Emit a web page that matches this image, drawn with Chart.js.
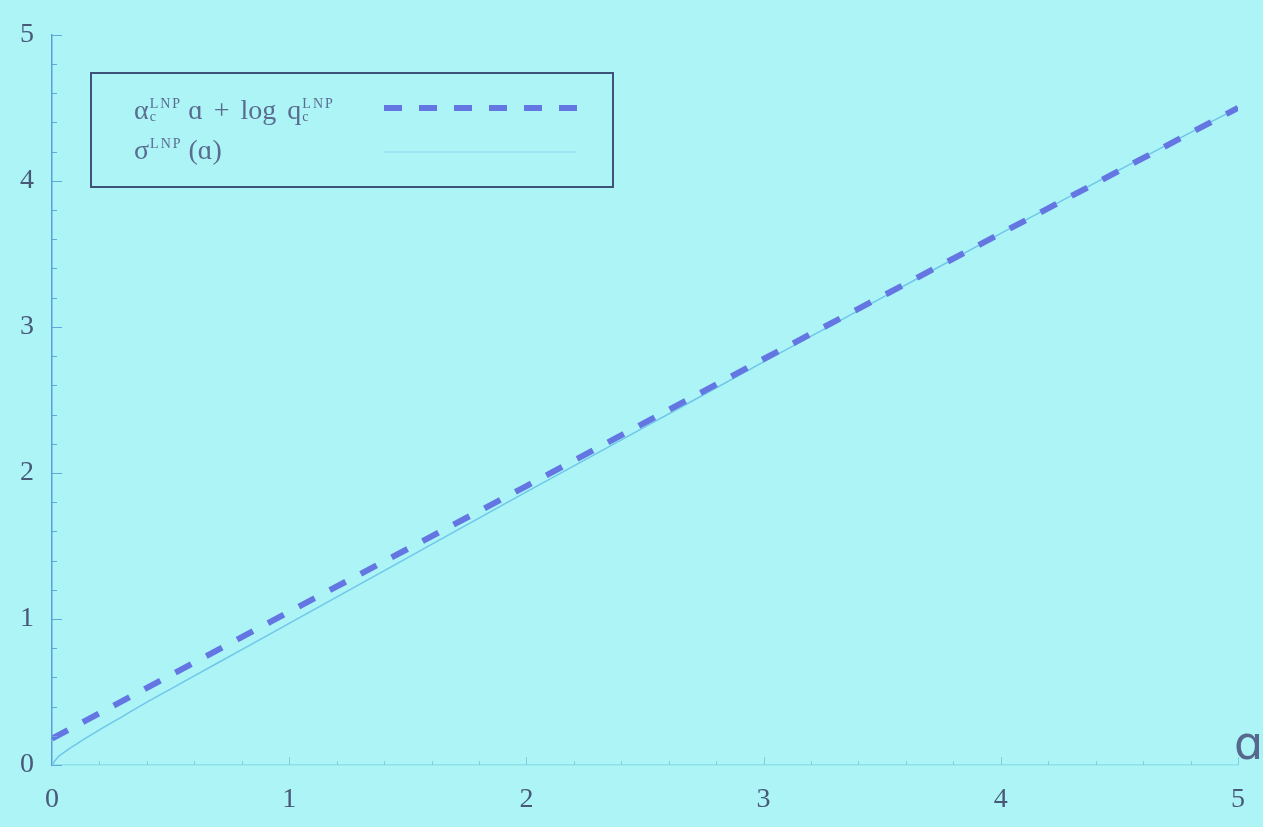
<!DOCTYPE html>
<html>
<head>
<meta charset="utf-8">
<script src="https://cdn.jsdelivr.net/npm/chart.js@4.4.1/dist/chart.umd.min.js"></script>
<style>
  html, body { margin: 0; padding: 0; background: #acf4f6; }
  #wrap { position: relative; width: 1263px; height: 827px; overflow: hidden; }
  #plot { position: absolute; left: 0; top: 0; }
  .legend {
    position: absolute; left: 90px; top: 72px; width: 520px; height: 112px;
    border: 2px solid #3f5278; box-sizing: content-box;
  }
  .row {
    position: absolute; left: 42px; font: 28px "Liberation Serif", "DejaVu Serif", serif;
    line-height: 28px; color: #5a6c90; white-space: nowrap; word-spacing: 4px;
  }
  .ss {
    display: inline-flex; flex-direction: column; font-size: 14px; line-height: 13px;
    letter-spacing: 2px; vertical-align: 11px; margin: 0 6px 0 1px;
  }
  .axis-name {
    position: absolute; left: 1234px; top: 716px;
    font: 46px "DejaVu Sans", sans-serif; color: #56688c;
  }
  svg.keys { position: absolute; left: 0; top: 0; }
</style>
</head>
<body>
<div id="wrap">
  <canvas id="plot" width="1263" height="827"></canvas>
  <div class="legend">
    <div class="row" style="top: 22px;">α<span class="ss"><span>LNP</span><span>c</span></span>ɑ + log q<span class="ss"><span>LNP</span><span>c</span></span></div>
    <div class="row" style="top: 62px;">σ<span class="ss"><span>LNP</span><span>&nbsp;</span></span>(ɑ)</div>
  </div>
  <svg class="keys" width="1263" height="827">
    <line x1="384" y1="108" x2="582" y2="108" stroke="#6476e2" stroke-width="6" stroke-dasharray="18 17"/>
    <line x1="384" y1="152" x2="576" y2="152" stroke="#8ad8ee" stroke-width="1.2"/>
  </svg>
  <div class="axis-name">ɑ</div>
</div>

<script>
// asymptote  alpha_c a + log q_c
const asymA = [0, 1, 2, 3, 4, 5];
const asymValues = [0.18, 1.05, 1.91, 2.78, 3.64, 4.50];

// sigma(a)
const sigmaA = [0, 0.02, 0.05, 0.1, 0.2, 0.3, 0.4, 0.5, 0.6, 0.8, 1, 1.5, 2, 2.5, 3, 3.5, 4, 4.5, 5];
const sigmaValues = [0, 0.045, 0.085, 0.14, 0.24, 0.335, 0.43, 0.52, 0.61, 0.79, 0.97, 1.42, 1.87, 2.315, 2.76, 3.20, 3.64, 4.075, 4.50];

const xTicks = [0, 1, 2, 3, 4, 5];
const yTicks = [0, 1, 2, 3, 4, 5];

const toPoints = (xs, ys) => xs.map((x, i) => ({ x: x, y: ys[i] }));

const labelFont = { family: '"Liberation Serif", "DejaVu Serif", serif', size: 28 };
const labelColor = '#4a5878';

// small inward ticks, major every 1 and minor every 0.2
const innerTicks = {
    id: 'innerTicks',
    afterDatasetsDraw(chart) {
        const ctx = chart.ctx;
        const xs = chart.scales.x;
        const ys = chart.scales.y;
        const area = chart.chartArea;
        ctx.save();
        ctx.lineWidth = 1;
        for (let i = 0; i <= 25; i++) {
            const px = Math.round(xs.getPixelForValue(i / 5)) + 0.5;
            const len = i % 5 === 0 ? 8 : 4;
            ctx.strokeStyle = '#7dd0e2';
            ctx.beginPath();
            ctx.moveTo(px, area.bottom);
            ctx.lineTo(px, area.bottom - len);
            ctx.stroke();
        }
        for (let i = 0; i <= 25; i++) {
            const py = Math.round(ys.getPixelForValue(i / 5)) + 0.5;
            const len = i % 5 === 0 ? 10 : 5;
            ctx.strokeStyle = '#62a8dc';
            ctx.beginPath();
            ctx.moveTo(area.left, py);
            ctx.lineTo(area.left + len, py);
            ctx.stroke();
        }
        ctx.restore();
    }
};

new Chart(document.getElementById('plot'), {
    type: 'line',
    data: {
        datasets: [
            {
                data: toPoints(asymA, asymValues),
                borderColor: '#6476e2',
                borderWidth: 6,
                borderDash: [18, 17],
                pointRadius: 0,
                tension: 0
            },
            {
                data: toPoints(sigmaA, sigmaValues),
                borderColor: '#70c6ea',
                borderWidth: 1.5,
                pointRadius: 0,
                cubicInterpolationMode: 'monotone'
            }
        ]
    },
    options: {
        responsive: false,
        animation: false,
        layout: { padding: { top: 25, right: 15, left: 0, bottom: 0 } },
        plugins: { legend: { display: false }, tooltip: { enabled: false } },
        scales: {
            x: {
                type: 'linear',
                min: 0,
                max: 5,
                afterBuildTicks: (scale) => { scale.ticks = xTicks.map(v => ({ value: v })); },
                afterFit: (scale) => { scale.height = 62; },
                ticks: { font: labelFont, color: labelColor, padding: 18 },
                grid: { drawOnChartArea: false, drawTicks: false },
                border: { color: '#8ee2ea', width: 1.5 }
            },
            y: {
                min: 0,
                max: 5,
                afterBuildTicks: (scale) => { scale.ticks = yTicks.map(v => ({ value: v })); },
                afterFit: (scale) => { scale.width = 52; },
                ticks: { font: labelFont, color: labelColor, padding: 18 },
                grid: { drawOnChartArea: false, drawTicks: false },
                border: { color: '#5a9fd8', width: 1.5 }
            }
        }
    },
    plugins: [innerTicks]
});
</script>
</body>
</html>
